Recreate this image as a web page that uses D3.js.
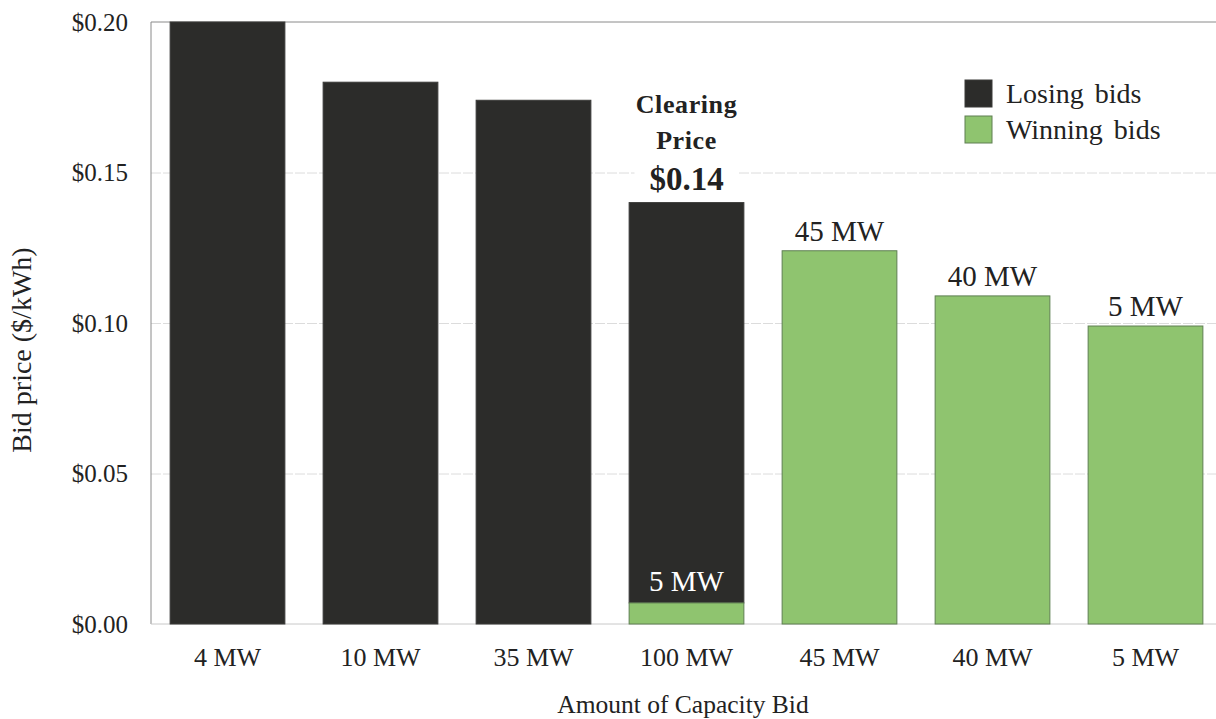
<!DOCTYPE html>
<html>
<head>
<meta charset="utf-8">
<script src="https://cdn.jsdelivr.net/npm/d3@7"></script>
<style>
  html, body { margin: 0; padding: 0; background: #fff; }
  svg { display: block; font-family: "Liberation Serif", "Times New Roman", serif; }
</style>
</head>
<body>
<svg id="chart" width="1216" height="719"></svg>
<script>
// Capacity offered in each bid, in bid order (highest price first)
const capacityLabels = ["4 MW", "10 MW", "35 MW", "100 MW", "45 MW", "40 MW", "5 MW"];
// Portion of each bar that is a losing bid ($/kWh)
const losingBids = [0.20, 0.18, 0.174, 0.133, 0, 0, 0];
// Portion of each bar that is a winning bid ($/kWh)
const winningBids = [0, 0, 0, 0.007, 0.124, 0.109, 0.099];
// Capacity labels printed on the winning portions
const winningLabels = ["", "", "", "5 MW", "45 MW", "40 MW", "5 MW"];
// Y-axis tick values
const priceTicks = [0, 0.05, 0.10, 0.15, 0.20];
// Index of the bid that sets the clearing price
const clearingIndex = 3;
const seriesNames = ["Losing bids", "Winning bids"];

const colors = { "Losing bids": "#2c2c2a", "Winning bids": "#8fc46f" };
const outlines = { "Losing bids": "#3a3a38", "Winning bids": "#5f7f52" };
const FONT = "Liberation Serif";

const svg = d3.select("#chart");
const plot = { left: 151, right: 1222, top: 22, bottom: 624 };

const rows = capacityLabels.map((c, i) => ({
  idx: i, label: c, "Losing bids": losingBids[i], "Winning bids": winningBids[i]
}));
const totals = rows.map(r => r["Losing bids"] + r["Winning bids"]);

const x = d3.scaleBand()
  .domain(d3.range(capacityLabels.length))
  .range([plot.left, plot.right])
  .paddingInner(0.25)
  .paddingOuter(0.125);

const y = d3.scaleLinear().domain([0, 0.20]).range([plot.bottom, plot.top]);

// Horizontal gridlines
svg.append("g")
  .attr("transform", `translate(${plot.left},0)`)
  .call(d3.axisLeft(y).tickValues(priceTicks.filter(t => t > 0 && t < 0.2))
    .tickSize(-(plot.right - plot.left)).tickFormat(""))
  .call(g => g.select(".domain").remove())
  .call(g => g.selectAll("line").attr("stroke", "#dcdcdc").attr("stroke-width", 1)
    .attr("stroke-dasharray", "10,2"));

// Plot frame: top, left and baseline
svg.append("line").attr("x1", plot.left).attr("x2", plot.right)
  .attr("y1", y(0.20)).attr("y2", y(0.20)).attr("stroke", "#8a8a8a");
svg.append("line").attr("x1", plot.left).attr("x2", plot.left)
  .attr("y1", y(0.20)).attr("y2", y(0)).attr("stroke", "#8a8a8a");
svg.append("line").attr("x1", plot.left).attr("x2", plot.right)
  .attr("y1", y(0)).attr("y2", y(0)).attr("stroke", "#c8c8c8");

// Stacked bars
const stacked = d3.stack().keys(seriesNames).order(d3.stackOrderReverse)(rows);
svg.append("g").selectAll("g")
  .data(stacked)
  .join("g")
  .attr("fill", d => colors[d.key])
  .attr("stroke", d => outlines[d.key])
  .attr("stroke-width", 1)
  .selectAll("rect")
  .data(d => d.filter(p => p[1] - p[0] > 0))
  .join("rect")
  .attr("x", p => x(p.data.idx))
  .attr("width", x.bandwidth())
  .attr("y", p => y(p[1]))
  .attr("height", p => y(p[0]) - y(p[1]));

// Y axis tick labels
svg.append("g")
  .attr("transform", `translate(${plot.left},0)`)
  .call(d3.axisLeft(y).tickValues(priceTicks).tickSize(0).tickPadding(23)
    .tickFormat(d3.format("$.2f")))
  .call(g => g.select(".domain").remove())
  .call(g => g.attr("font-family", FONT).selectAll("text").attr("font-size", 25).attr("fill", "#222"));

// X axis tick labels
svg.append("g")
  .attr("transform", `translate(0,${plot.bottom})`)
  .call(d3.axisBottom(x).tickSize(0).tickPadding(24).tickFormat(i => capacityLabels[i]))
  .call(g => g.select(".domain").remove())
  .call(g => g.attr("font-family", FONT).selectAll("text").attr("font-size", 26).attr("fill", "#222"));

// Axis titles
svg.append("text")
  .attr("x", 683).attr("y", 713)
  .attr("text-anchor", "middle").attr("font-size", 25.5).attr("fill", "#222")
  .text("Amount of Capacity Bid");
svg.append("text")
  .attr("transform", "translate(31,350) rotate(-90)")
  .attr("text-anchor", "middle").attr("font-size", 28).attr("fill", "#222")
  .text("Bid price ($/kWh)");

// Winning capacity labels
svg.append("g").selectAll("text")
  .data(rows.filter(r => winningLabels[r.idx] !== ""))
  .join("text")
  .attr("x", r => x(r.idx) + x.bandwidth() / 2)
  .attr("y", r => r.idx === clearingIndex ? y(r["Winning bids"]) - 12 : y(totals[r.idx]) - 10)
  .attr("text-anchor", "middle")
  .attr("font-size", 29)
  .attr("fill", r => r.idx === clearingIndex ? "#fff" : "#222")
  .text(r => winningLabels[r.idx]);

// Clearing price annotation
const cx = x(clearingIndex) + x.bandwidth() / 2;
const clearingText = d3.format("$.2f")(totals[clearingIndex]);
svg.append("rect")
  .attr("x", cx - 52).attr("y", y(totals[clearingIndex]) - 40)
  .attr("width", 104).attr("height", 32).attr("fill", "#fff");
const ann = svg.append("g").attr("text-anchor", "middle").attr("font-weight", "bold").attr("fill", "#222");
ann.append("text").attr("x", cx).attr("y", 113).attr("font-size", 26)
  .attr("letter-spacing", 0.6).text("Clearing");
ann.append("text").attr("x", cx).attr("y", 149).attr("font-size", 26)
  .attr("letter-spacing", 0.6).text("Price");
ann.append("text").attr("x", cx).attr("y", y(totals[clearingIndex]) - 13).attr("font-size", 33)
  .text(clearingText);

// Legend
const legend = svg.append("g").attr("transform", "translate(965,80)");
seriesNames.forEach((name, i) => {
  const g = legend.append("g").attr("transform", `translate(0,${i * 36})`);
  g.append("rect").attr("width", 27).attr("height", 27)
    .attr("fill", colors[name]).attr("stroke", outlines[name]);
  g.append("text").attr("x", 41).attr("y", 23).attr("font-size", 28)
    .attr("fill", "#222").attr("word-spacing", 4).text(name);
});
</script>
</body>
</html>
